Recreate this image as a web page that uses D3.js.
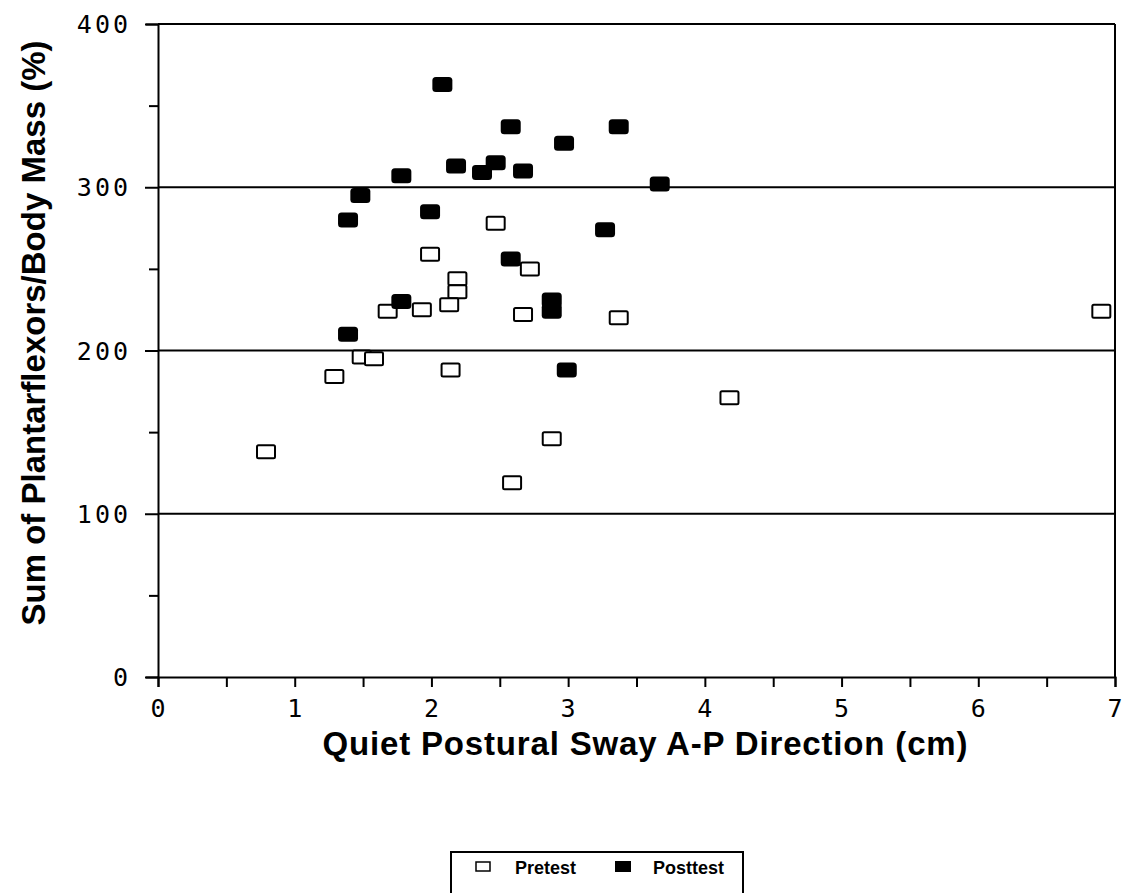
<!DOCTYPE html>
<html>
<head>
<meta charset="utf-8">
<script src="https://cdn.jsdelivr.net/npm/d3@7"></script>
<style>
  html, body { margin: 0; padding: 0; background: #fff; }
  svg { display: block; }
</style>
</head>
<body>
<svg id="chart" width="1128" height="893"></svg>
<script>
// Pretest: sway (cm) and plantarflexor strength (% body mass)
const pretestSway = [2.47, 1.99, 2.72, 2.19, 2.19, 2.13, 1.93, 1.68, 2.67, 3.37,
                     1.49, 1.58, 1.29, 2.14, 0.79, 4.18, 2.88, 2.59, 6.90];
const pretestStrength = [278, 259, 250, 244, 236, 228, 225, 224, 222, 220,
                         196, 195, 184, 188, 138, 171, 146, 119, 224];

// Posttest
const posttestSway = [2.08, 2.58, 3.37, 2.97, 2.18, 2.47, 2.37, 2.67, 1.78, 3.67,
                      1.48, 1.39, 1.99, 3.27, 2.58, 1.78, 2.88, 2.88, 1.39, 2.99];
const posttestStrength = [363, 337, 337, 327, 313, 315, 309, 310, 307, 302,
                          295, 280, 285, 274, 256, 230, 231, 224, 210, 188];

const xTicks = [0, 1, 2, 3, 4, 5, 6, 7];
const yTicks = [0, 100, 200, 300, 400];
const yGridValues = [100, 200, 300];
const xLabel = "Quiet Postural Sway A-P Direction (cm)";
const yLabel = "Sum of Plantarflexors/Body Mass (%)";
const legendLabels = ["Pretest", "Posttest"];

const svg = d3.select("#chart");
const plot = { left: 158, right: 1115, top: 24, bottom: 677 };

const x = d3.scaleLinear().domain([0, 7]).range([plot.left, plot.right]);
const y = d3.scaleLinear().domain([0, 400]).range([plot.bottom, plot.top]);

const ink = "#000";
const tickFont = "'DejaVu Sans Mono', monospace";
const labelFont = "'Liberation Sans', Arial, Helvetica, sans-serif";

// Horizontal gridlines
svg.append("g")
  .selectAll("line")
  .data(yGridValues)
  .join("line")
  .attr("x1", plot.left).attr("x2", plot.right)
  .attr("y1", d => y(d)).attr("y2", d => y(d))
  .attr("stroke", ink).attr("stroke-width", 2);

// Frame: top and right edges
svg.append("line")
  .attr("x1", plot.left).attr("x2", plot.right)
  .attr("y1", y(400)).attr("y2", y(400))
  .attr("stroke", ink).attr("stroke-width", 2);
svg.append("line")
  .attr("x1", plot.right).attr("x2", plot.right)
  .attr("y1", y(400)).attr("y2", y(0))
  .attr("stroke", ink).attr("stroke-width", 2);

// Y axis with minor ticks every 50
const yAxis = svg.append("g")
  .attr("transform", `translate(${plot.left},0)`)
  .call(d3.axisLeft(y).tickValues(d3.range(0, 401, 50)).tickSize(12).tickFormat(() => ""));
yAxis.select(".domain").attr("stroke", ink).attr("stroke-width", 2);
yAxis.selectAll(".tick line").attr("stroke", ink).attr("stroke-width", 2)
  .attr("x2", d => d % 100 === 0 ? -13 : -9);

svg.append("g")
  .selectAll("text")
  .data(yTicks)
  .join("text")
  .attr("x", 131)
  .attr("y", d => y(d))
  .attr("dy", "0.36em")
  .attr("text-anchor", "end")
  .attr("font-family", tickFont)
  .attr("font-size", 25)
  .attr("letter-spacing", 3)
  .attr("fill", ink)
  .text(d => d);

// X axis with ticks every 0.5
const xAxis = svg.append("g")
  .attr("transform", `translate(0,${plot.bottom})`)
  .call(d3.axisBottom(x).tickValues(d3.range(0, 7.01, 0.5)).tickSize(10).tickFormat(() => ""));
xAxis.select(".domain").attr("stroke", ink).attr("stroke-width", 2);
xAxis.selectAll(".tick line").attr("stroke", ink).attr("stroke-width", 2);

svg.append("g")
  .selectAll("text")
  .data(xTicks)
  .join("text")
  .attr("x", d => x(d))
  .attr("y", 708)
  .attr("dy", "0.36em")
  .attr("text-anchor", "middle")
  .attr("font-family", tickFont)
  .attr("font-size", 25)
  .attr("fill", ink)
  .text(d => d);

// Axis titles
svg.append("text")
  .attr("x", 645).attr("y", 755)
  .attr("text-anchor", "middle")
  .attr("font-family", labelFont)
  .attr("font-weight", "bold")
  .attr("font-size", 33)
  .attr("textLength", 645)
  .attr("lengthAdjust", "spacing")
  .attr("fill", ink)
  .text(xLabel);

svg.append("text")
  .attr("transform", "translate(45,333) rotate(-90)")
  .attr("text-anchor", "middle")
  .attr("font-family", labelFont)
  .attr("font-weight", "bold")
  .attr("font-size", 33)
  .attr("textLength", 585)
  .attr("lengthAdjust", "spacing")
  .attr("fill", ink)
  .text(yLabel);

// Markers
const mw = 18, mh = 13;
const pre = d3.zip(pretestSway, pretestStrength);
const post = d3.zip(posttestSway, posttestStrength);

svg.append("g")
  .selectAll("rect")
  .data(pre)
  .join("rect")
  .attr("x", d => x(d[0]) - mw / 2)
  .attr("y", d => y(d[1]) - mh / 2)
  .attr("width", mw).attr("height", mh)
  .attr("rx", 1.5)
  .attr("fill", "#fff")
  .attr("stroke", ink)
  .attr("stroke-width", 2);

svg.append("g")
  .selectAll("rect")
  .data(post)
  .join("rect")
  .attr("x", d => x(d[0]) - (mw + 2) / 2)
  .attr("y", d => y(d[1]) - (mh + 2) / 2)
  .attr("width", mw + 2).attr("height", mh + 2)
  .attr("rx", 3.5)
  .attr("fill", ink);

// Legend
const legend = svg.append("g");
legend.append("rect")
  .attr("x", 451).attr("y", 852)
  .attr("width", 292).attr("height", 60)
  .attr("fill", "#fff")
  .attr("stroke", ink).attr("stroke-width", 2);

legend.append("rect")
  .attr("x", 476).attr("y", 862).attr("width", 14).attr("height", 9)
  .attr("fill", "#fff").attr("stroke", ink).attr("stroke-width", 1.5);
legend.append("rect")
  .attr("x", 615).attr("y", 861).attr("width", 16).attr("height", 11)
  .attr("fill", ink);

legend.selectAll("text.lbl")
  .data(legendLabels)
  .join("text")
  .attr("class", "lbl")
  .attr("x", (d, i) => i === 0 ? 515 : 653)
  .attr("y", 874)
  .attr("font-family", labelFont)
  .attr("font-weight", "bold")
  .attr("font-size", 18)
  .attr("fill", ink)
  .text(d => d);
</script>
</body>
</html>
